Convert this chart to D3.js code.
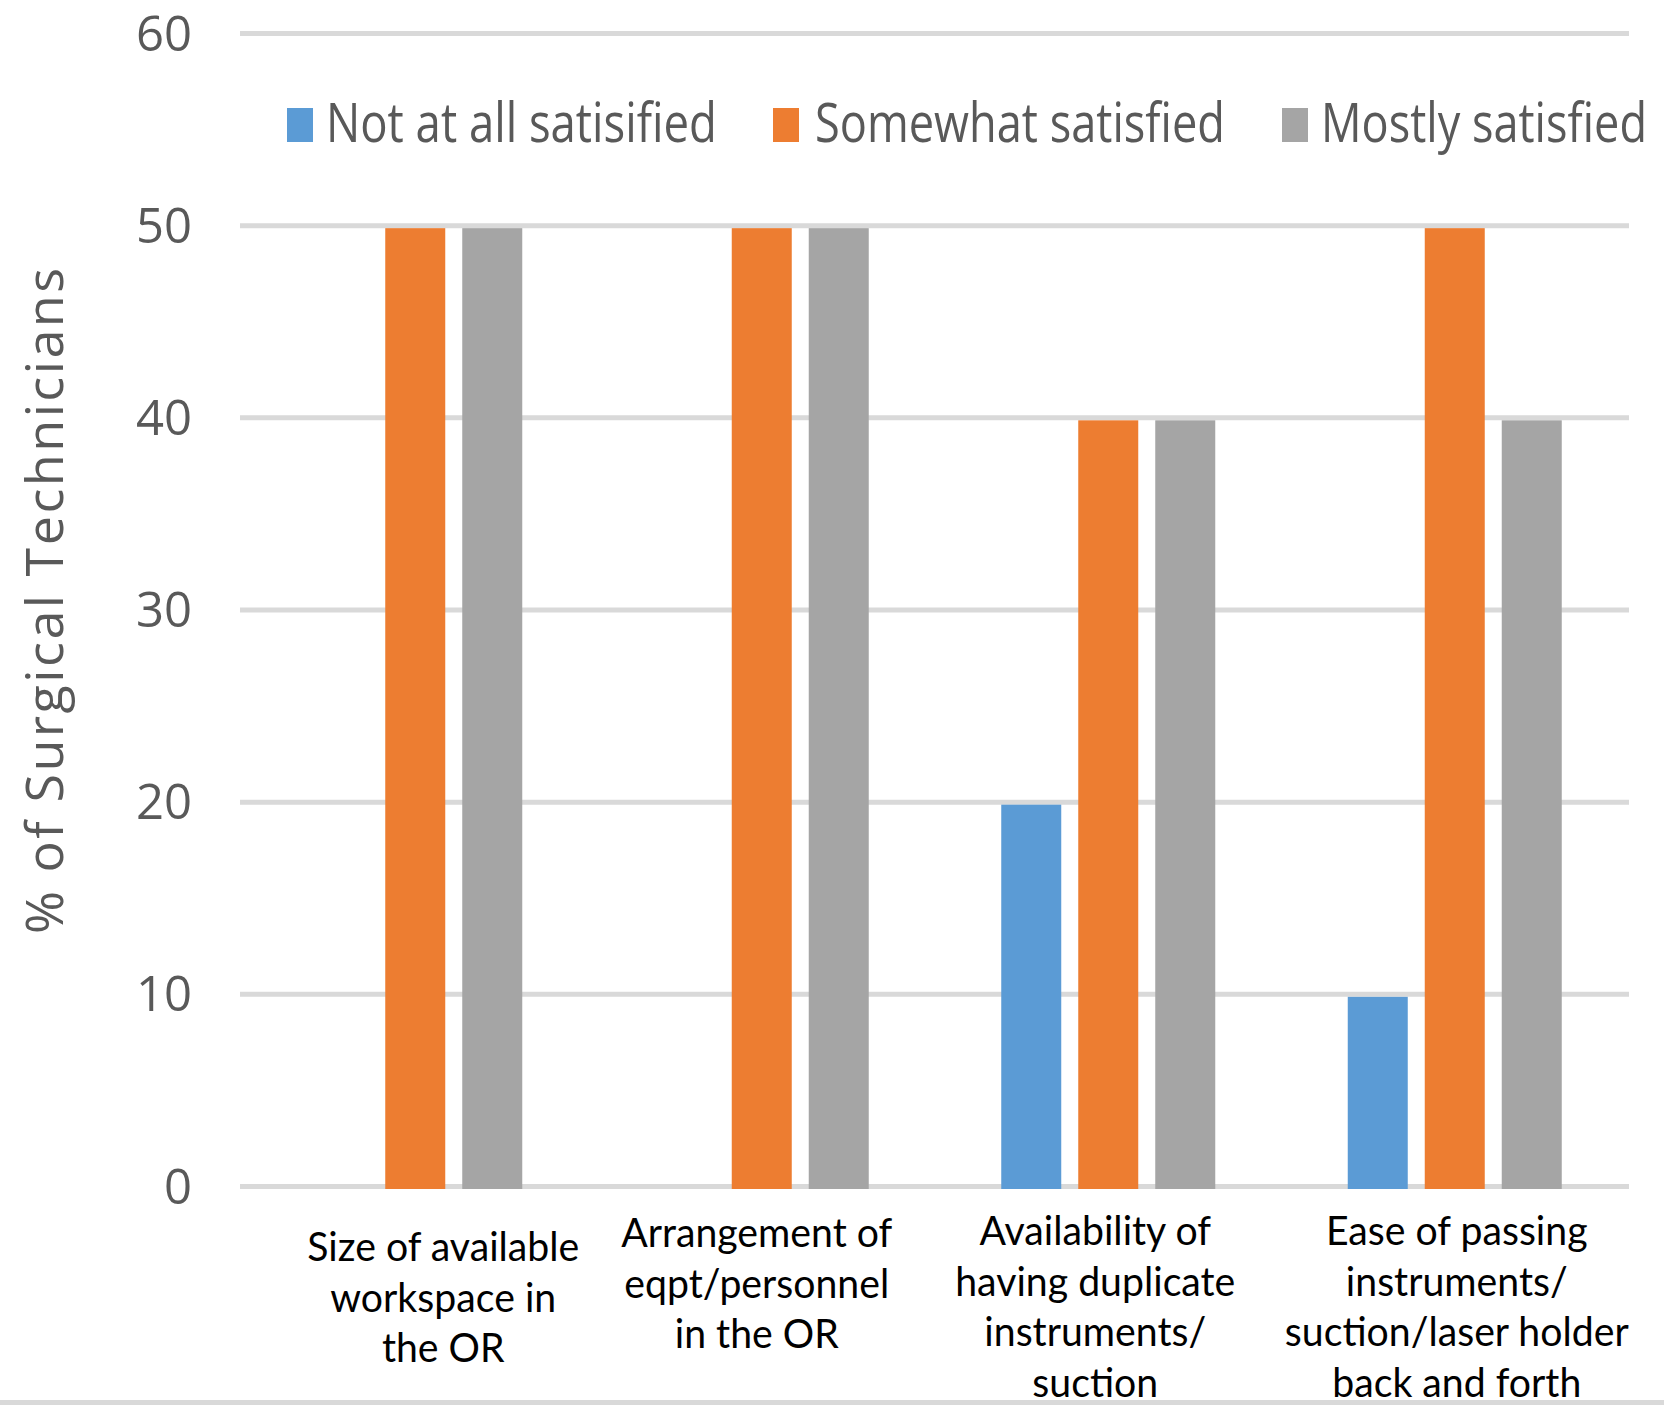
<!DOCTYPE html>
<html><head><meta charset="utf-8">
<script src="https://cdn.jsdelivr.net/npm/d3@7"></script>
<style>html,body{margin:0;padding:0;background:#fff;}svg{display:block;}</style>
</head><body>
<svg id="chart" width="1664" height="1405"></svg>
<script>
// ---- data ----
const categories = ["Size of available workspace in the OR","Arrangement of eqpt/personnel in the OR","Availability of having duplicate instruments/ suction","Ease of passing instruments/ suction/laser holder back and forth"];
const categoryLines = [
  ["Size of available","workspace in","the OR"],
  ["Arrangement of","eqpt/personnel","in the OR"],
  ["Availability of","having duplicate","instruments/","suction"],
  ["Ease of passing","instruments/","suction/laser holder","back and forth"]
];
const seriesNames = ["Not at all satisified","Somewhat satisfied","Mostly satisfied"];
const notAtAll = [0, 0, 20, 10];
const somewhat = [50, 50, 40, 50];
const mostly = [50, 50, 40, 40];
const yTicks = [0, 10, 20, 30, 40, 50, 60];
const yTitle = "% of Surgical Technicians";

// ---- layout/style (not data) ----
const colors = ["#5B9BD5", "#ED7D31", "#A5A5A5"];
const labelDx = [30, -3, -11, 4];
const labelY0 = [1261, 1247, 1245, 1245];
const lineGap = 50.5;
const legendLayout = [
  {sq: 287, tx: 326, tw: 391},
  {sq: 773, tx: 815, tw: 410},
  {sq: 1282, tx: 1321, tw: 326}
];

const svg = d3.select("#chart");
const values = [notAtAll, somewhat, mostly];

const y = d3.scaleLinear().domain([0, 60]).range([1186.5, 33.5]);
const x0 = d3.scaleBand().domain(categories).range([240, 1626]).padding(0);
const bw = x0.bandwidth();
const x1 = d3.scaleBand().domain(seriesNames)
  .range([bw/2 - 115.5 + 2, bw/2 + 115.5 + 2])
  .paddingInner(17/77).paddingOuter(17/154);

// gridlines
svg.append("g").selectAll("line").data(yTicks).join("line")
  .attr("x1", 240).attr("x2", 1629)
  .attr("y1", d => y(d)).attr("y2", d => y(d))
  .attr("stroke", "#D9D9D9").attr("stroke-width", 5);

// tick labels
svg.append("g").selectAll("text").data(yTicks).join("text")
  .attr("x", 192).attr("y", d => y(d) + 17)
  .attr("text-anchor", "end")
  .attr("font-family", "'Open Sans', sans-serif").attr("font-size", 49)
  .attr("fill", "#595959")
  .text(d => d);

// bars
const groups = svg.append("g").selectAll("g").data(categories).join("g")
  .attr("transform", d => `translate(${x0(d)},0)`);
groups.selectAll("rect")
  .data((c, ci) => seriesNames.map((s, si) => ({s, si, v: values[si][ci]})))
  .join("rect")
  .attr("x", d => x1(d.s))
  .attr("width", x1.bandwidth())
  .attr("y", d => y(d.v) + 2.5)
  .attr("height", d => y(0) - y(d.v))
  .attr("fill", d => colors[d.si]);

// category labels
const labG = svg.append("g");
let measure = labG.append("text").attr("font-family", "Lato, sans-serif").attr("font-size", 40).text(categoryLines[0][0]);
const natural = measure.node().getComputedTextLength();
measure.remove();
const sx = 272 / natural;
categories.forEach((c, ci) => {
  const cx = x0(c) + bw/2 + labelDx[ci];
  categoryLines[ci].forEach((ln, li) => {
    labG.append("text")
      .attr("transform", `translate(${cx},${labelY0[ci] + li*lineGap}) scale(${sx},1)`)
      .attr("text-anchor", "middle")
      .attr("font-family", "Lato, sans-serif").attr("font-size", 40)
      .attr("fill", "#000")
      .text(ln);
  });
});

// legend
const leg = svg.append("g");
seriesNames.forEach((s, i) => {
  const L = legendLayout[i];
  leg.append("rect").attr("x", L.sq).attr("y", 108).attr("width", 26).attr("height", 34).attr("fill", colors[i]);
  const t = leg.append("text")
    .attr("font-family", "'Open Sans', sans-serif").attr("font-size", 54)
    .attr("fill", "#595959")
    .text(s);
  const nat = t.node().getComputedTextLength();
  t.attr("transform", `translate(${L.tx},142) scale(${L.tw / nat},1)`);
});

// y-axis title
svg.append("text")
  .attr("transform", "translate(63,601) rotate(-90)")
  .attr("text-anchor", "middle")
  .attr("font-family", "'Open Sans', sans-serif").attr("font-size", 52)
  .attr("fill", "#595959")
  .attr("textLength", 666).attr("lengthAdjust", "spacing")
  .text(yTitle);

// bottom border
svg.append("rect").attr("x", 0).attr("y", 1400).attr("width", 1664).attr("height", 5).attr("fill", "#D9D9D9");
</script>
</body></html>
